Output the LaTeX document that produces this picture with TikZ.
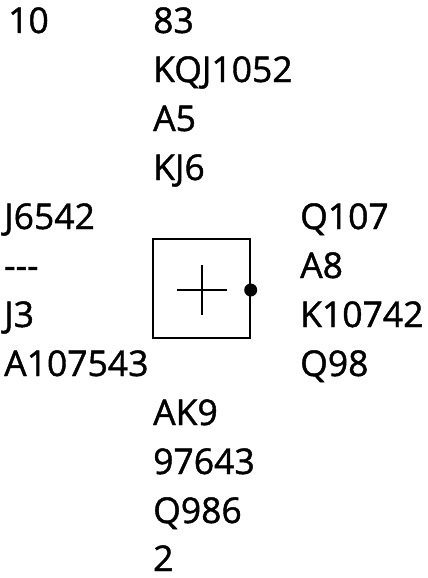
\documentclass[tikz,border=0pt]{standalone}
\usepackage{fontspec}
\newfontfamily\handfont{Open Sans}[FakeBold=1.2]
\begin{document}
\begin{tikzpicture}[x=1pt,y=-1pt,
  hand/.style={anchor=base west, inner sep=0pt, font=\handfont\fontsize{35.5}{35.5}\selectfont},
  boardbox/.style={draw, line width=1.4pt, minimum width=97pt, minimum height=99pt, inner sep=0pt},
  crossline/.style={line width=1.2pt},
  seatdot/.style={circle, fill, inner sep=0pt, minimum size=13pt}]
\useasboundingbox (0,0) rectangle (428,578);
% board number
\node[hand] (num) at (8,33) {10};
% North
\node[hand] (n1) at (153,33) {83};
\node[hand] (n2) at (153,82) {KQJ1052};
\node[hand] (n3) at (153,131) {A5};
\node[hand] (n4) at (153,180) {KJ6};
% West
\node[hand] (w1) at (4,229) {J6542};
\node[hand] (w2) at (4,278) {-{}-{}-};
\node[hand] (w3) at (4,327) {J3};
\node[hand] (w4) at (4,376) {A107543};
% East
\node[hand] (e1) at (300,229) {Q107};
\node[hand] (e2) at (300,278) {A8};
\node[hand] (e3) at (300,327) {K10742};
\node[hand] (e4) at (300,376) {Q98};
% South
\node[hand] (s1) at (153,425) {AK9};
\node[hand] (s2) at (153,474) {97643};
\node[hand] (s3) at (153,523) {Q986};
\node[hand] (s4) at (153,571) {2};
% board
\node[boardbox] (board) at (201.5,288.5) {};
\coordinate (cc) at (202,290);
\draw[crossline] ([xshift=-25pt]cc) -- ([xshift=25pt]cc);
\draw[crossline] ([yshift=-25pt]cc) -- ([yshift=25pt]cc);
\node[seatdot] (dealer) at (board.east |- cc) {};
\end{tikzpicture}
\end{document}
